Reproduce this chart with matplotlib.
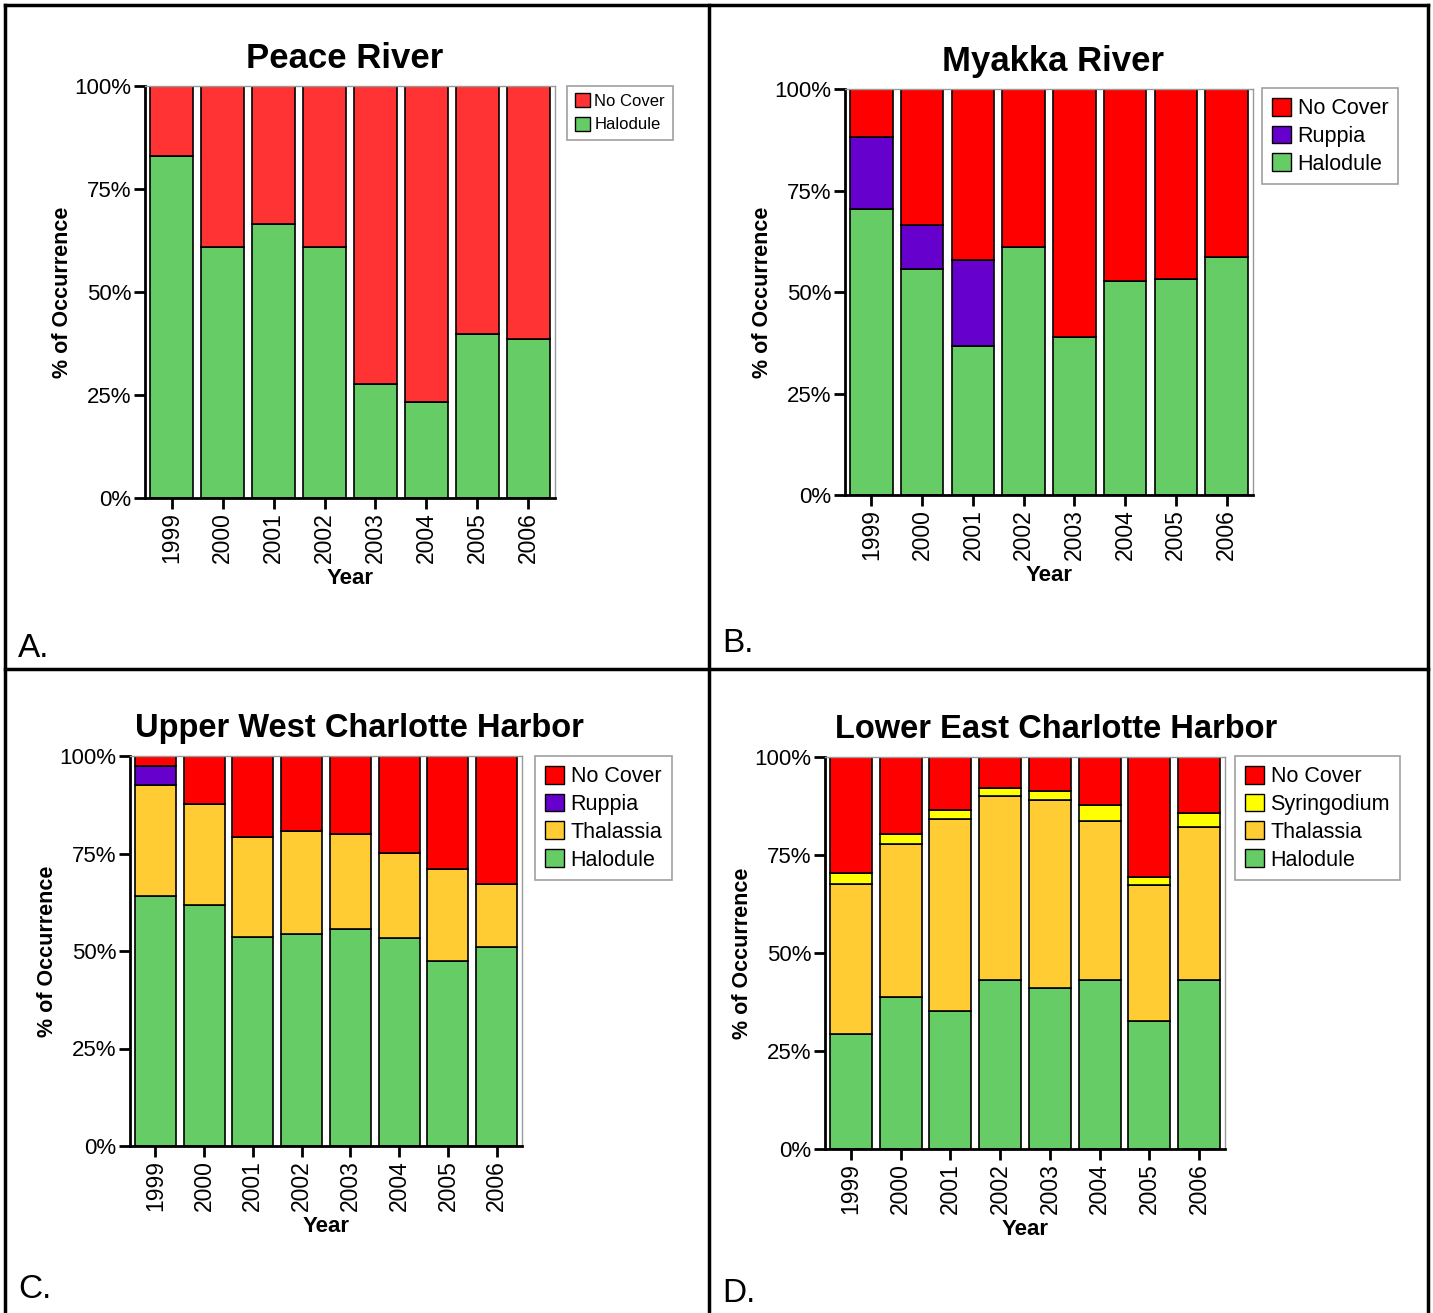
import matplotlib.pyplot as plt
from matplotlib.lines import Line2D
from matplotlib.patches import Patch

plt.rcParams['font.family'] = ['Liberation Sans', 'DejaVu Sans']

years = ['1999', '2000', '2001', '2002', '2003', '2004', '2005', '2006']

# A: Peace River (% occurrence)
peace_halodule = [83.1, 61.0, 66.5, 61.0, 27.7, 23.2, 39.8, 38.7]
peace_nocover = [16.9, 39.0, 33.5, 39.0, 72.3, 76.8, 60.2, 61.3]

# B: Myakka River
myakka_halodule = [70.5, 55.6, 36.7, 61.1, 38.9, 52.8, 53.1, 58.7]
myakka_ruppia = [17.6, 11.0, 21.3, 0, 0, 0, 0, 0]
myakka_nocover = [11.9, 33.4, 42.0, 38.9, 61.1, 47.2, 46.9, 41.3]

# C: Upper West Charlotte Harbor
uwch_halodule = [64.0, 61.7, 53.6, 54.4, 55.7, 53.3, 47.4, 50.9]
uwch_thalassia = [28.5, 25.9, 25.6, 26.3, 24.2, 21.8, 23.6, 16.2]
uwch_ruppia = [4.9, 0, 0, 0, 0, 0, 0, 0]
uwch_nocover = [2.6, 12.4, 20.8, 19.3, 20.1, 24.9, 29.0, 32.9]

# D: Lower East Charlotte Harbor
lech_halodule = [29.4, 38.7, 35.3, 43.0, 41.1, 43.0, 32.6, 43.0]
lech_thalassia = [38.1, 39.0, 48.9, 47.1, 48.0, 40.6, 34.7, 39.2]
lech_syringodium = [2.8, 2.7, 2.4, 2.1, 2.1, 4.1, 2.0, 3.4]
lech_nocover = [29.7, 19.6, 13.4, 7.8, 8.8, 12.3, 30.7, 14.4]

W, H = 1433, 1313
fig = plt.figure(figsize=(W / 100, H / 100), dpi=100)


def fx(px):
    return px / W


def fy(py):
    return 1 - py / H


def panel(box, title, series, legbox, legsize, title_x, title_size, legspace=0.3):
    x0, x1, y0, y1 = box
    ax = fig.add_axes([fx(x0), fy(y1), fx(x1 - x0), (y1 - y0) / H])
    xs = range(len(years))
    bottom = [0.0] * len(years)
    handles = []
    for name, vals, color in series:
        ax.bar(xs, vals, width=0.84, bottom=bottom, color=color,
               edgecolor='black', linewidth=1.2)
        bottom = [b + v for b, v in zip(bottom, vals)]
        handles.append(Patch(facecolor=color, edgecolor='black', label=name))
    ax.set_xlim(-0.52, 7.52)
    ax.set_ylim(0, 100)
    ax.set_yticks([0, 25, 50, 75, 100])
    ax.set_yticklabels(['0%', '25%', '50%', '75%', '100%'], fontsize=16)
    ax.set_xticks(list(xs))
    ax.set_xticklabels(years, rotation=90, fontsize=16.5)
    ax.tick_params(axis='both', length=8, width=2, color='black', pad=2)
    for s in ['left', 'bottom']:
        ax.spines[s].set_linewidth(2)
        ax.spines[s].set_color('black')
    for s in ['top', 'right']:
        ax.spines[s].set_linewidth(1)
        ax.spines[s].set_color('#999999')
    ax.set_xlabel('Year', fontsize=16, fontweight='bold', labelpad=4)
    ax.set_ylabel('% of Occurrence', fontsize=15.5, fontweight='bold', labelpad=1)
    fig.text(fx(title_x), fy(y0 - 28), title, fontsize=title_size, fontweight='bold',
             ha='center', va='center')
    lx, ly = legbox
    leg = ax.legend(handles=handles[::-1], loc='upper left',
                    bbox_to_anchor=(fx(lx), fy(ly)), bbox_transform=fig.transFigure,
                    fontsize=legsize, frameon=True, fancybox=False,
                    edgecolor='#888888', handlelength=0.9, handleheight=0.9,
                    handletextpad=0.3, borderpad=0.45, labelspacing=legspace,
                    borderaxespad=0)
    leg.get_frame().set_linewidth(1.2)
    return ax


panel((145, 555, 86, 498), 'Peace River',
      [('Halodule', peace_halodule, '#66CC66'),
       ('No Cover', peace_nocover, '#FF3333')],
      (567, 86), 12, 345, 25, legspace=0.45)

panel((845, 1253, 89, 495), 'Myakka River',
      [('Halodule', myakka_halodule, '#66CC66'),
       ('Ruppia', myakka_ruppia, '#6600CC'),
       ('No Cover', myakka_nocover, '#FF0000')],
      (1262, 88), 15.5, 1053, 25)

panel((130, 522, 756, 1146), 'Upper West Charlotte Harbor',
      [('Halodule', uwch_halodule, '#66CC66'),
       ('Thalassia', uwch_thalassia, '#FFCC33'),
       ('Ruppia', uwch_ruppia, '#6600CC'),
       ('No Cover', uwch_nocover, '#FF0000')],
      (535, 756), 15.5, 359, 23.5)

panel((825, 1225, 757, 1149), 'Lower East Charlotte Harbor',
      [('Halodule', lech_halodule, '#66CC66'),
       ('Thalassia', lech_thalassia, '#FFCC33'),
       ('Syringodium', lech_syringodium, '#FFFF00'),
       ('No Cover', lech_nocover, '#FF0000')],
      (1235, 756), 15.5, 1056, 23.5)

# panel letters
fig.text(fx(18), fy(648), 'A.', fontsize=24, va='center', ha='left')
fig.text(fx(722), fy(643), 'B.', fontsize=24, va='center', ha='left')
fig.text(fx(18), fy(1290), 'C.', fontsize=24, va='center', ha='left')
fig.text(fx(722), fy(1293), 'D.', fontsize=24, va='center', ha='left')

# table grid lines
for xa, ya, xb, yb in [(5, 5, 1428, 5), (5, 5, 5, 1313), (1428, 5, 1428, 1313),
                       (709, 5, 709, 1313), (5, 669, 1428, 669)]:
    fig.add_artist(Line2D([fx(xa), fx(xb)], [fy(ya), fy(yb)],
                          color='black', linewidth=2.5, transform=fig.transFigure))

fig.savefig('out.png', dpi=100)
